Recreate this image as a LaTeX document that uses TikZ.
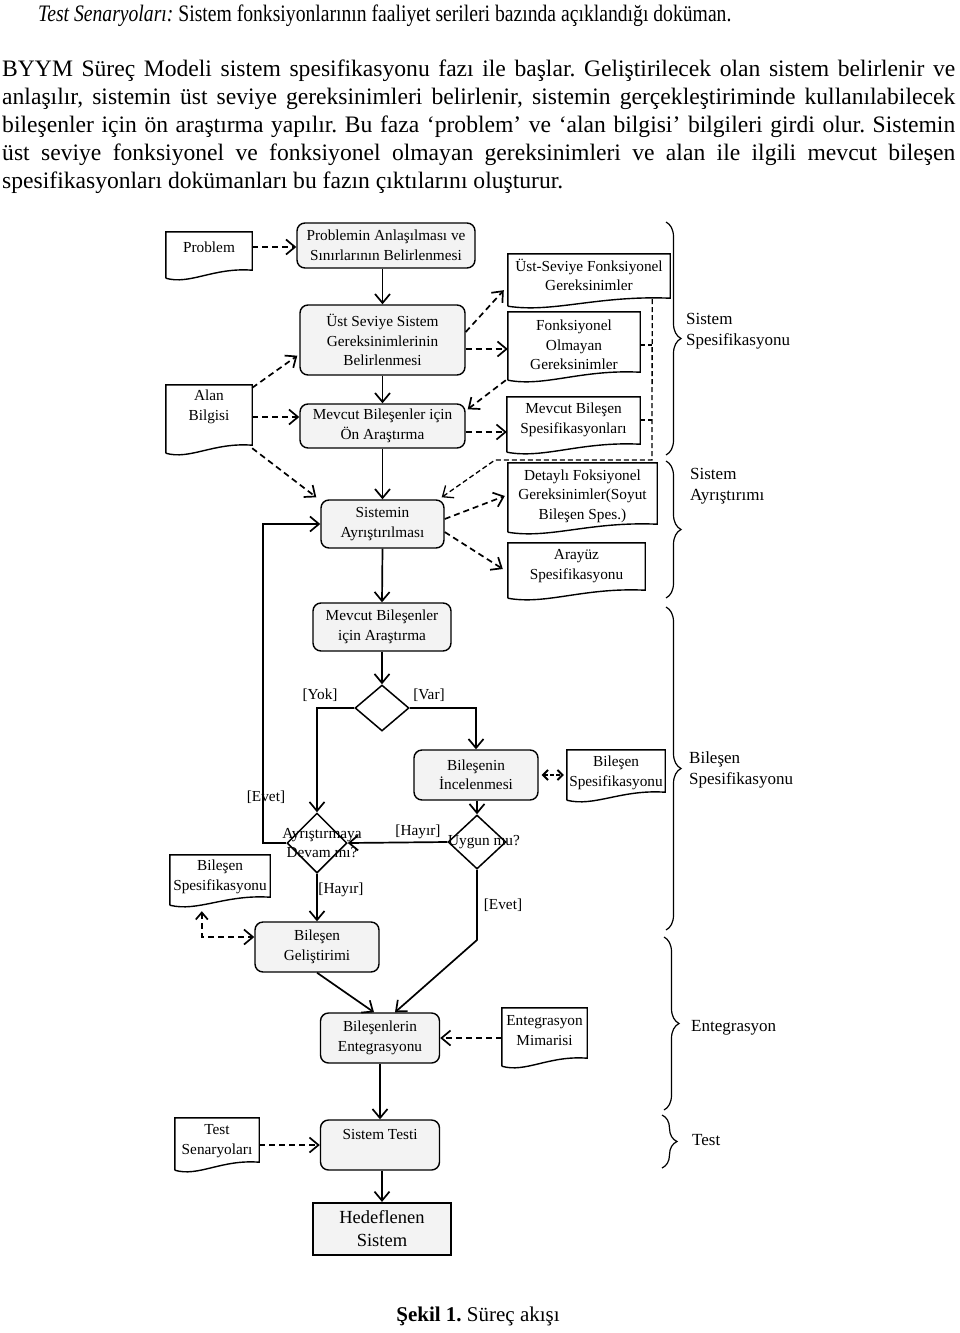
\documentclass[tikz,border=0pt]{standalone}
\usepackage{fontspec}
\setmainfont{Liberation Serif}
\usetikzlibrary{arrows.meta,calc,shapes.geometric,decorations.pathreplacing}
\definecolor{boxgray}{RGB}{243,243,243}
\frenchspacing
\newcommand\bodyfont{\fontsize{23.6}{28}\selectfont}
\newcommand\dfont{\fontsize{15.3}{19.5}\selectfont}
\newcommand\bfont{\fontsize{17}{21}\selectfont}
\newcommand\hfont{\fontsize{18.5}{23}\selectfont}
\newcommand\capfont{\fontsize{21}{25}\selectfont}
% document outline: #1 = extra drop of right bottom corner, #2 = node name
\newcommand\docshape[2][0]{%
  \draw[docline] ($(#2.south west)+(0,#1+8)$) -- (#2.north west) -- (#2.north east) -- ($(#2.south east)+(0,#1)$)
   .. controls ($(#2.south east)!0.45!(#2.south west)+(0,#1-3)$) and ($(#2.south east)!0.72!(#2.south west)+(0,#1+15)$) .. ($(#2.south west)+(0,#1+8)$);}
\tikzset{
  rbox/.style={draw, line width=1.4pt, rounded corners=8pt, fill=boxgray, align=center, font=\dfont, inner sep=2pt},
  docnode/.style={align=center, font=\dfont, inner sep=0pt},
  docline/.style={line width=1.4pt},
  flow/.style={line width=1.7pt, -{Straight Barb[length=9pt,width=15pt]}},
  dflow/.style={flow, dash pattern=on 6pt off 4pt},
  thindash/.style={line width=1.2pt, dash pattern=on 5pt off 3pt},
  lbl/.style={font=\dfont, inner sep=0pt},
  bracelbl/.style={font=\bfont, align=left, anchor=west, inner sep=0pt},
  brc/.style={decorate, decoration={brace, amplitude=15pt}, line width=1.2pt},
  dec/.style={draw, shape=diamond, line width=1.5pt, inner sep=0pt},
  para/.style={anchor=base west, inner sep=0pt, font=\bodyfont},
}
\begin{document}
\begin{tikzpicture}[x=1pt,y=-1pt]
\fill[white] (0,0) rectangle (960,1333);
\useasboundingbox (0,0) rectangle (960,1333);

% header text
\node[para] (p0) at (38,21) {\scalebox{0.833}[1]{\textit{Test Senaryoları:} Sistem fonksiyonlarının faaliyet serileri bazında açıklandığı doküman.}};
\node[para] (p1) at (2,76) {\makebox[953pt][s]{BYYM Süreç Modeli sistem spesifikasyonu fazı ile başlar. Geliştirilecek olan sistem belirlenir ve}};
\node[para] (p2) at (2,104) {\makebox[953pt][s]{anlaşılır, sistemin üst seviye gereksinimleri belirlenir, sistemin gerçekleştiriminde kullanılabilecek}};
\node[para] (p3) at (2,132) {\makebox[953pt][s]{bileşenler için ön araştırma yapılır. Bu faza ‘problem’ ve ‘alan bilgisi’ bilgileri girdi olur. Sistemin}};
\node[para] (p4) at (2,160) {\makebox[953pt][s]{üst seviye fonksiyonel ve fonksiyonel olmayan gereksinimleri ve alan ile ilgili mevcut bileşen}};
\node[para] (p5) at (2,188) {spesifikasyonları dokümanları bu fazın çıktılarını oluşturur.};

% process boxes
\node[rbox, minimum width=178pt, minimum height=45pt] (A) at (386,245.5) {Problemin Anlaşılması ve\\Sınırlarının Belirlenmesi};
\node[rbox, minimum width=165pt, minimum height=70pt] (B) at (382.5,340) {Üst Seviye Sistem\\Gereksinimlerinin\\Belirlenmesi};
\node[rbox, minimum width=165pt, minimum height=44pt] (C) at (382.5,426) {Mevcut Bileşenler için\\Ön Araştırma};
\node[rbox, minimum width=123pt, minimum height=48pt] (D) at (382.5,524) {Sistemin\\Ayrıştırılması};
\node[rbox, minimum width=138pt, minimum height=48pt] (E) at (382,627) {Mevcut Bileşenler\\için Araştırma};
\node[rbox, minimum width=124pt, minimum height=50pt] (F) at (476,775) {Bileşenin\\İncelenmesi};
\node[rbox, minimum width=124pt, minimum height=50pt] (G) at (317,947) {Bileşen\\Geliştirimi};
\node[rbox, minimum width=119pt, minimum height=50pt] (H) at (380,1038) {Bileşenlerin\\Entegrasyonu};
\node[rbox, minimum width=119pt, minimum height=50pt] (I) at (380,1145) {\raisebox{0pt}[11pt][23pt]{Sistem Testi}};
\node[draw, line width=2.2pt, fill=boxgray, align=center, font=\hfont, minimum width=138pt, minimum height=52pt] (J) at (382,1229) {Hedeflenen\\Sistem};

% documents
\node[docnode, minimum width=86pt, minimum height=30pt] (docP) at (209,247) {Problem};
\docshape[8]{docP}
\node[docnode, minimum width=162pt, minimum height=42pt] (docU) at (589,275) {Üst-Seviye Fonksiyonel\\Gereksinimler};
\docshape[2]{docU}
\node[docnode, minimum width=132pt, minimum height=66pt] (docFO) at (574,345) {Fonksiyonel\\Olmayan\\Gereksinimler};
\docshape[-6]{docFO}
\node[docnode, minimum width=133pt, minimum height=46pt] (docMB) at (573.5,420) {Mevcut Bileşen\\Spesifikasyonları};
\docshape[1]{docMB}
\node[docnode, minimum width=149pt, minimum height=66pt] (docDet) at (582.5,496) {Detaylı Foksiyonel\\Gereksinimler(Soyut\\Bileşen Spes.)};
\docshape[-5]{docDet}
\node[docnode, minimum width=137pt, minimum height=46pt] (docAr) at (576.5,566) {Arayüz\\Spesifikasyonu};
\docshape[1]{docAr}
\node[docnode, minimum width=86pt, minimum height=44pt] (docAlan) at (209,407) {Alan\\Bilgisi};
\docshape[16]{docAlan}
\node[docnode, minimum width=98pt, minimum height=46pt] (docBSr) at (616,773) {Bileşen\\Spesifikasyonu};
\docshape[-4]{docBSr}
\node[docnode, minimum width=100pt, minimum height=44pt] (docBSl) at (220,877) {Bileşen\\Spesifikasyonu};
\docshape[-2]{docBSl}
\node[docnode, minimum width=85pt, minimum height=45pt] (docEM) at (544.5,1030.5) {Entegrasyon\\Mimarisi};
\docshape[5]{docEM}
\node[docnode, minimum width=84pt, minimum height=46pt] (docTS) at (217,1141) {Test\\Senaryoları};
\docshape[-2]{docTS}

% decisions
\node[dec, minimum width=54pt, minimum height=46pt] (d1) at (382,708) {};
\node[dec, minimum width=60pt, minimum height=60pt, label={[lbl, align=center, xshift=5pt]center:Ayrıştırmaya\\Devam mı?}] (d2) at (317,843) {};
\node[dec, minimum width=58pt, minimum height=54pt, label={[lbl, xshift=7pt]center:Uygun mu?}] (d3) at (477,842) {};

% guard labels
\node[lbl] (yok) at (320,695) {[Yok]};
\node[lbl] (var) at (429,695) {[Var]};
\node[lbl] (evet1) at (266,797) {[Evet]};
\node[lbl] (hayir1) at (418,832) {[Hayır]};
\node[lbl] (hayir2) at (341,890) {[Hayır]};
\node[lbl] (evet2) at (503,905) {[Evet]};

% solid flow
\draw[flow] (B.north |- A.south) -- (B.north);
\draw[flow] (B.south) -- (C.north);
\draw[flow] (C.south) -- (D.north);
\draw[flow] (D.south) -- (E.north);
\draw[flow] (E.south) -- (d1.north);
\draw[flow] (d1.west) -| (d2.north);
\draw[flow] (d1.east) -| (F.north);
\draw[flow] (d3.north |- F.south) -- (d3.north);
\draw[flow] (d3.west) -- (d2.east);
\coordinate (lp) at (263,600);
\draw[flow] (d2.west) -| (lp |- D.west) -- (D.west);
\draw[flow] (d2.south) -- (G.north);
\coordinate (ev) at (477,940);
\draw[flow] (d3.south) -- (ev) -- ($(H.north)+(15,0)$);
\draw[flow] (G.south) -- ($(H.north)+(-6,0)$);
\draw[flow] (H.south) -- (I.north);
\draw[flow] (J.north |- I.south) -- (J.north);

% dashed flow
\draw[dflow] (docP.east) -- (docP.east -| A.west);
\draw[dflow] ($(B.east)+(0,-8)$) -- ($(docU.south west)+(-4,-6)$);
\draw[dflow] ($(B.east)+(0,9)$) coordinate (b9) -- (b9 -| docFO.west);
\draw[dflow] ($(docAlan.north east)+(0,3)$) -- ($(B.south west)+(-2,-20)$);
\draw[dflow] ($(docAlan.east)+(0,10)$) coordinate (a10) -- (a10 -| C.west);
\draw[dflow] ($(docFO.south west)+(-2,2)$) -- ($(C.north east)+(2,6)$);
\draw[dflow] ($(C.east)+(0,6)$) coordinate (c6) -- (c6 -| docMB.west);
\draw[dflow] ($(docAlan.south east)+(0,19)$) -- ($(D.north west)+(-4,-2)$);
\coordinate (vt) at ($(docU.south east)+(-18,3)$);
\coordinate (vb) at (652,460);
\coordinate (hl) at (495,460);
\draw[thindash] (docFO.east) -- (docFO.east -| vt);
\draw[thindash] (docMB.east) -- (docMB.east -| vt);
\draw[dflow, line width=1.3pt, dash pattern=on 5pt off 3pt] (vt) -- (vb) -- (hl) -- ($(D.north east)+(-3,-2)$);
\draw[dflow] ($(D.east)+(0,-5)$) -- ($(docDet.west)+(-3,0)$);
\draw[dflow] ($(D.east)+(0,8)$) -- ($(docAr.west)+(-5,3)$);
\draw[dflow, line width=1.9pt, {Straight Barb[length=5pt,width=10pt]}-{Straight Barb[length=5pt,width=10pt]}, dash pattern=on 4pt off 2pt] ($(F.east)+(3,0)$) -- ($(docBSr.west |- F.east)+(-3,0)$);
\draw[dflow, {Straight Barb[length=7pt,width=12pt]}-{Straight Barb[length=9pt,width=15pt]}] ($(docBSl.south west)+(32,12)$) |- ($(G.west)+(0,-10)$);
\draw[dflow] (docEM.west |- H.east) -- (H.east);
\draw[dflow] (docTS.east |- I.west) -- (I.west);

% braces and phase labels
\draw[brc] (666,222) -- (666,455);
\draw[brc] (666,461) -- (666,598);
\draw[brc] (666,607) -- (666,930);
\draw[brc] (664,937) -- (664,1110);
\draw[brc] (662,1115) -- (662,1168);
\node[bracelbl] (ph1) at (686,331) {Sistem\\Spesifikasyonu};
\node[bracelbl] (ph2) at (690,486) {Sistem\\Ayrıştırımı};
\node[bracelbl] (ph3) at (689,770) {Bileşen\\Spesifikasyonu};
\node[bracelbl] (ph4) at (691,1028) {Entegrasyon};
\node[bracelbl] (ph5) at (692,1140) {Test};

% caption
\node[font=\capfont, inner sep=0pt] (cap) at (478,1316) {\textbf{Şekil 1.} Süreç akışı};
\end{tikzpicture}
\end{document}
